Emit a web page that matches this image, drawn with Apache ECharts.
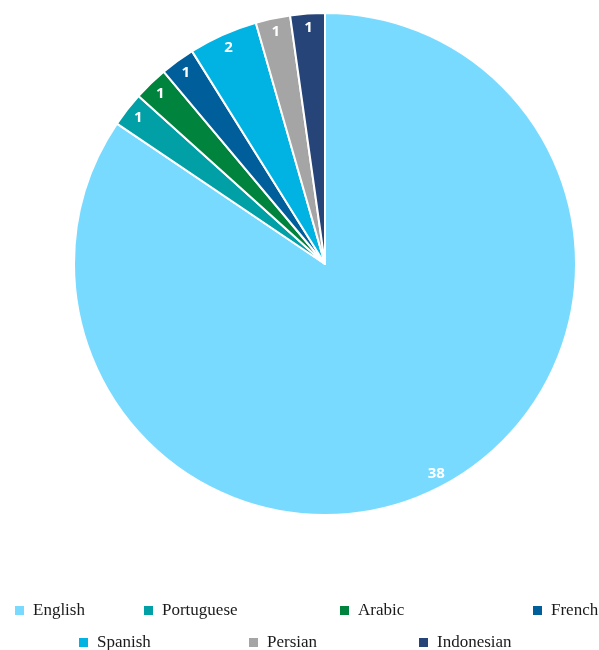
<!DOCTYPE html>
<html><head><meta charset="utf-8">
<script src="https://cdn.jsdelivr.net/npm/echarts@6/dist/echarts.min.js"></script>
<style>html,body{margin:0;padding:0;background:#fff}#c{width:599px;height:650px}</style>
</head><body><div id="c"></div>
<script>
const categories = ['English','Portuguese','Arabic','French','Spanish','Persian','Indonesian'];
const values = [38,1,1,1,2,1,1];
const colors = ['#79DAFF','#00A0A6','#00843D','#005F9A','#00B3E3','#A5A5A5','#264478'];

const data = categories.map((n,i)=>({name:n,value:values[i],itemStyle:{color:colors[i]}}));
const legendPos = [[13,602],[142,602],[338,602],[531,602],[77,634],[247,634],[417,634]];
const legends = categories.map((n,i)=>({
  data:[n], left:legendPos[i][0], top:legendPos[i][1], orient:'horizontal',
  icon:'rect', itemWidth:11, itemHeight:11, itemGap:6, padding:0,
  textStyle:{fontFamily:'Liberation Serif', fontSize:17, color:'#1a1a1a', padding:[0,0,0,3]}, selectedMode:false
}));
const chart = echarts.init(document.getElementById('c'));
chart.setOption({
  animation:false,
  legend: legends,
  series:[{
    type:'pie', center:[325,264], radius:[0,251], startAngle:90, clockwise:true,
    data:data, label:{show:false}, labelLine:{show:false},
    itemStyle:{borderColor:'#fff', borderWidth:2}, silent:true
  },{
    type:'pie', center:[325,264], radius:[217,251], startAngle:90, clockwise:true,
    data:data.map(d=>({name:d.name,value:d.value,itemStyle:{color:'rgba(0,0,0,0)'}})),
    label:{show:true, position:'inside', color:'#fff', fontFamily:'Open Sans', fontWeight:'bold', fontSize:15, formatter:'{c}'},
    labelLine:{show:false}, itemStyle:{borderWidth:0}, silent:true, legendHoverLink:false
  }]
});
</script></body></html>
